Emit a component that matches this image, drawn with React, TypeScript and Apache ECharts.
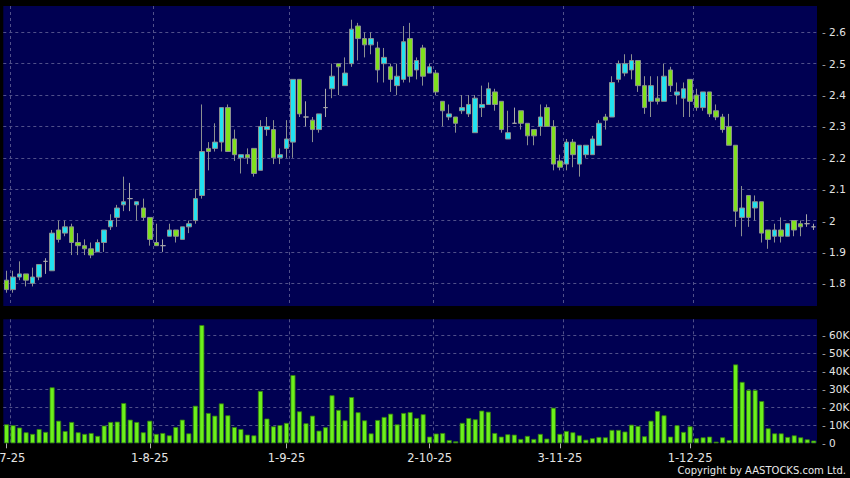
import React, { useEffect, useRef } from 'react';
import * as echarts from 'echarts';

// Trading days per month (2025)
const julDays = [2, 3, 4, 7, 8, 9, 10, 11, 14, 15, 16, 17, 18, 21, 22, 23, 24, 25, 28, 29, 30, 31];
const augDays = [1, 4, 5, 6, 7, 8, 11, 12, 13, 14, 15, 18, 19, 20, 21, 22, 25, 26, 27, 28, 29];
const sepDays = [1, 2, 3, 4, 5, 8, 9, 10, 11, 12, 15, 16, 17, 18, 19, 22, 23, 24, 25, 26, 29, 30];
const octDays = [2, 3, 6, 8, 9, 10, 13, 14, 15, 16, 17, 20, 21, 22, 23, 24, 27, 28, 30, 31];
const novDays = [3, 4, 5, 6, 7, 10, 11, 12, 13, 14, 17, 18, 19, 20, 21, 24, 25, 26, 27, 28];
const decDays = [1, 2, 3, 4, 5, 8, 9, 10, 11, 12, 15, 16, 17, 18, 19, 22, 23, 24, 29, 30];

const categories: string[] = [
  ...julDays.map((d) => `${d}-7-25`),
  ...augDays.map((d) => `${d}-8-25`),
  ...sepDays.map((d) => `${d}-9-25`),
  ...octDays.map((d) => `${d}-10-25`),
  ...novDays.map((d) => `${d}-11-25`),
  ...decDays.map((d) => `${d}-12-25`),
];

const opens = [
  1.81, 1.78, 1.82, 1.83, 1.80, 1.82, 1.87, 1.84, 1.97, 1.96,
  1.98, 1.93, 1.92, 1.91, 1.90, 1.93, 1.98, 2.01, 2.05, 2.07,
  2.05, 2.04, 2.01, 1.93, 1.92, 1.95, 1.97, 1.94, 1.98, 2.00,
  2.08, 2.23, 2.23, 2.25, 2.36, 2.26, 2.20, 2.21, 2.23, 2.16,
  2.29, 2.29, 2.20, 2.23, 2.25, 2.45, 2.33, 2.32, 2.29, 2.36,
  2.42, 2.50, 2.43, 2.50, 2.62, 2.58, 2.56, 2.55, 2.50, 2.49,
  2.43, 2.45, 2.58, 2.48, 2.55, 2.47, 2.47, 2.38, 2.33, 2.33,
  2.35, 2.34, 2.28, 2.36, 2.37, 2.41, 2.38, 2.26, 2.31, 2.35,
  2.31, 2.29, 2.30, 2.36, 2.30, 2.19, 2.18, 2.25, 2.18, 2.21,
  2.21, 2.24, 2.33, 2.33, 2.45, 2.47, 2.48, 2.51, 2.43, 2.38,
  2.39, 2.38, 2.48, 2.40, 2.39, 2.45, 2.40, 2.36, 2.41, 2.35,
  2.33, 2.30, 2.24, 2.01, 2.08, 2.04, 2.06, 1.97, 1.95, 1.97,
  1.95, 2.00, 1.99, 1.99, 1.98,
];
const closes = [
  1.78, 1.82, 1.83, 1.81, 1.82, 1.86, 1.87, 1.96, 1.94, 1.98,
  1.93, 1.92, 1.91, 1.89, 1.93, 1.97, 2.00, 2.04, 2.06, 2.07,
  2.06, 2.01, 1.94, 1.92, 1.92, 1.97, 1.95, 1.98, 1.99, 2.07,
  2.22, 2.22, 2.25, 2.36, 2.22, 2.21, 2.21, 2.20, 2.15, 2.30,
  2.30, 2.20, 2.21, 2.26, 2.45, 2.34, 2.33, 2.29, 2.34, 2.36,
  2.46, 2.49, 2.47, 2.61, 2.58, 2.56, 2.58, 2.48, 2.52, 2.45,
  2.46, 2.57, 2.46, 2.51, 2.46, 2.49, 2.41, 2.35, 2.34, 2.31,
  2.36, 2.37, 2.39, 2.37, 2.42, 2.37, 2.29, 2.28, 2.31, 2.31,
  2.27, 2.27, 2.33, 2.30, 2.18, 2.17, 2.25, 2.21, 2.24, 2.24,
  2.26, 2.31, 2.32, 2.44, 2.50, 2.50, 2.51, 2.43, 2.36, 2.43,
  2.38, 2.46, 2.43, 2.41, 2.42, 2.38, 2.36, 2.41, 2.34, 2.33,
  2.29, 2.24, 2.03, 2.04, 2.01, 2.06, 1.96, 1.94, 1.97, 1.95,
  1.99, 1.97, 1.98, 1.99, 1.98,
];
const lows = [
  1.77, 1.77, 1.81, 1.79, 1.79, 1.81, 1.83, 1.84, 1.93, 1.95,
  1.89, 1.89, 1.89, 1.88, 1.90, 1.90, 1.97, 1.98, 2.03, 2.03,
  2.00, 2.00, 1.92, 1.92, 1.90, 1.95, 1.93, 1.94, 1.96, 1.99,
  2.07, 2.16, 2.22, 2.22, 2.22, 2.19, 2.15, 2.18, 2.14, 2.16,
  2.27, 2.18, 2.18, 2.20, 2.20, 2.33, 2.30, 2.25, 2.28, 2.33,
  2.39, 2.40, 2.43, 2.49, 2.51, 2.52, 2.53, 2.44, 2.44, 2.41,
  2.40, 2.44, 2.44, 2.45, 2.43, 2.47, 2.40, 2.30, 2.32, 2.28,
  2.34, 2.33, 2.28, 2.33, 2.37, 2.35, 2.28, 2.26, 2.31, 2.29,
  2.24, 2.24, 2.27, 2.30, 2.16, 2.16, 2.16, 2.17, 2.14, 2.20,
  2.21, 2.24, 2.29, 2.33, 2.44, 2.46, 2.45, 2.41, 2.34, 2.33,
  2.37, 2.38, 2.41, 2.37, 2.33, 2.33, 2.35, 2.35, 2.33, 2.32,
  2.28, 2.24, 1.98, 1.95, 1.98, 2.00, 1.93, 1.91, 1.93, 1.93,
  1.95, 1.95, 1.95, 1.98, 1.97,
];
const highs = [
  1.84, 1.84, 1.87, 1.83, 1.85, 1.86, 1.88, 1.97, 2.00, 2.00,
  1.99, 1.96, 1.94, 1.93, 1.94, 1.97, 2.02, 2.05, 2.14, 2.12,
  2.06, 2.07, 2.01, 1.99, 1.94, 1.99, 1.97, 1.98, 2.00, 2.10,
  2.37, 2.25, 2.31, 2.36, 2.37, 2.29, 2.21, 2.23, 2.23, 2.32,
  2.33, 2.32, 2.23, 2.32, 2.45, 2.45, 2.38, 2.33, 2.34, 2.42,
  2.50, 2.50, 2.52, 2.64, 2.63, 2.60, 2.60, 2.57, 2.55, 2.50,
  2.50, 2.62, 2.63, 2.52, 2.56, 2.50, 2.48, 2.38, 2.37, 2.33,
  2.40, 2.40, 2.40, 2.43, 2.44, 2.42, 2.38, 2.35, 2.36, 2.35,
  2.31, 2.29, 2.37, 2.37, 2.32, 2.21, 2.26, 2.26, 2.24, 2.24,
  2.27, 2.32, 2.34, 2.46, 2.51, 2.53, 2.53, 2.51, 2.46, 2.46,
  2.46, 2.50, 2.49, 2.44, 2.44, 2.45, 2.42, 2.41, 2.41, 2.37,
  2.34, 2.34, 2.24, 2.11, 2.08, 2.08, 2.06, 1.97, 1.99, 2.01,
  1.99, 2.00, 2.00, 2.02, 1.99,
];
// Volume in thousands of shares
const volumes = [
  10.5, 10.0, 8.7, 6.1, 5.2, 7.9, 6.3, 31.0, 12.5, 6.8,
  11.8, 6.1, 5.2, 5.7, 4.1, 9.8, 11.8, 12.0, 22.3, 13.1,
  11.8, 6.1, 12.5, 5.2, 5.7, 4.4, 9.0, 13.1, 5.5, 20.8,
  65.5, 16.8, 15.3, 22.1, 15.5, 9.0, 7.9, 4.8, 4.4, 29.0,
  13.7, 9.4, 10.1, 11.3, 37.8, 17.7, 11.1, 15.3, 7.0, 8.9,
  26.6, 18.5, 12.7, 25.6, 17.2, 12.7, 5.5, 12.9, 14.6, 16.4,
  10.5, 16.8, 17.3, 14.0, 16.1, 3.7, 5.4, 5.7, 1.8, 1.1,
  11.3, 14.0, 13.3, 18.1, 17.5, 5.7, 3.7, 5.0, 4.8, 2.4,
  4.1, 2.4, 5.2, 2.6, 19.7, 5.2, 6.8, 6.1, 4.4, 2.0,
  2.8, 3.5, 3.3, 7.4, 7.4, 6.5, 10.3, 9.6, 3.9, 12.5,
  17.9, 15.5, 3.7, 10.0, 6.3, 9.4, 2.8, 3.3, 3.7, 0.9,
  3.3, 1.8, 43.7, 34.0, 29.5, 29.5, 23.4, 8.3, 5.5, 5.5,
  3.5, 4.4, 3.3, 2.2, 1.5,
];

const priceTicks = [1.8, 1.9, 2.0, 2.1, 2.2, 2.3, 2.4, 2.5, 2.6];
const volumeTicks = [0, 10, 20, 30, 40, 50, 60];

const FONT = 'DejaVu Sans';
const GRID_LINE = '#50508a';
const LABEL = '#e4e4e4';

export default function App() {
  const ref = useRef<HTMLDivElement>(null);

  useEffect(() => {
    document.body.style.margin = '0';
    document.body.style.background = '#000';
    if (!ref.current) return;
    const chart = echarts.init(ref.current, undefined, { renderer: 'svg' });

    const monthStart = categories.map(
      (c, i) => i === 0 || c.split('-')[1] !== categories[i - 1].split('-')[1]
    );
    const splitInterval = (i: number) => i > 0 && monthStart[i - 1];
    const labelInterval = (i: number) => monthStart[i];

    const splitLine = {
      show: true,
      interval: splitInterval,
      showMaxLine: false,
      lineStyle: { color: GRID_LINE, type: [3, 3], width: 1 },
    };

    const option: any = {
      animation: false,
      backgroundColor: '#000000',
      grid: [
        {
          left: 3.3, top: 6, width: 813.7, height: 300, show: true,
          backgroundColor: '#000052', borderWidth: 0,
          containLabel: false, outerBoundsMode: 'none',
        },
        {
          left: 3.3, top: 319.3, width: 813.7, height: 124, show: true,
          backgroundColor: '#000052', borderWidth: 0,
          containLabel: false, outerBoundsMode: 'none',
        },
      ],
      xAxis: [
        {
          type: 'category',
          gridIndex: 0,
          data: categories,
          boundaryGap: true,
          axisLine: { show: false },
          axisTick: { show: false },
          axisLabel: { show: false },
          splitLine,
        },
        {
          type: 'category',
          gridIndex: 1,
          data: categories,
          boundaryGap: true,
          axisLine: { show: false },
          axisTick: {
            show: true,
            interval: labelInterval,
            alignWithLabel: true,
            length: 5,
            lineStyle: { color: '#b0b0b0' },
          },
          axisLabel: {
            show: true,
            interval: labelInterval,
            color: LABEL,
            fontFamily: FONT,
            fontSize: 11.5,
            margin: 9,
            hideOverlap: false,
          },
          splitLine,
        },
      ],
      yAxis: [
        {
          type: 'value',
          gridIndex: 0,
          position: 'right',
          min: 1.7277,
          max: 2.6838,
          axisLine: { show: false },
          axisTick: { show: false },
          splitLine: { show: false },
          axisLabel: {
            customValues: priceTicks,
            margin: 5,
            formatter: (v: number) => `{t|-} {v|${+v.toFixed(1)}}`,
            rich: {
              t: { color: '#a8a8a8', fontFamily: FONT, fontSize: 10.5 },
              v: { color: LABEL, fontFamily: FONT, fontSize: 10.5 },
            },
          },
        },
        {
          type: 'value',
          gridIndex: 1,
          position: 'right',
          min: 0,
          max: 68.7,
          axisLine: { show: false },
          axisTick: { show: false },
          splitLine: { show: false },
          axisLabel: {
            customValues: volumeTicks,
            margin: 5,
            formatter: (v: number) => `{t|-} {v|${v === 0 ? '0' : Math.round(v) + 'K'}}`,
            rich: {
              t: { color: '#a8a8a8', fontFamily: FONT, fontSize: 10.5 },
              v: { color: LABEL, fontFamily: FONT, fontSize: 10.5 },
            },
          },
        },
      ],
      series: [
        {
          type: 'candlestick',
          xAxisIndex: 0,
          yAxisIndex: 0,
          z: 3,
          barWidth: 5,
          data: opens.map((o, i) => [o, closes[i], lows[i], highs[i]]),
          itemStyle: {
            color: '#22e2f0',
            color0: '#80e01e',
            borderColor: '#8c9090',
            borderColor0: '#8c9090',
            borderColorDoji: '#a8a8a8',
            borderWidth: 1,
          },
          markLine: {
            silent: true,
            z: 1,
            symbol: ['none', 'none'],
            label: { show: false },
            lineStyle: { color: GRID_LINE, type: [3, 3], width: 1 },
            data: priceTicks.map((v) => ({ yAxis: v })),
          },
        },
        {
          type: 'bar',
          xAxisIndex: 1,
          yAxisIndex: 1,
          z: 3,
          barWidth: 5,
          data: volumes,
          itemStyle: { color: '#6cf01c', borderColor: '#347f0e', borderWidth: 0.8 },
          markLine: {
            silent: true,
            z: 1,
            symbol: ['none', 'none'],
            label: { show: false },
            lineStyle: { color: GRID_LINE, type: [3, 3], width: 1 },
            data: volumeTicks.filter((v) => v > 0).map((v) => ({ yAxis: v })),
          },
        },
      ],
      graphic: [
        {
          type: 'text',
          right: 4,
          top: 465,
          style: {
            text: 'Copyright by AASTOCKS.com Ltd.',
            fill: '#e8e8e8',
            font: `10px "${FONT}"`,
          },
        },
      ],
    };

    chart.setOption(option);
    return () => chart.dispose();
  }, []);

  return <div ref={ref} style={{ width: 850, height: 478, background: '#000' }} />;
}
